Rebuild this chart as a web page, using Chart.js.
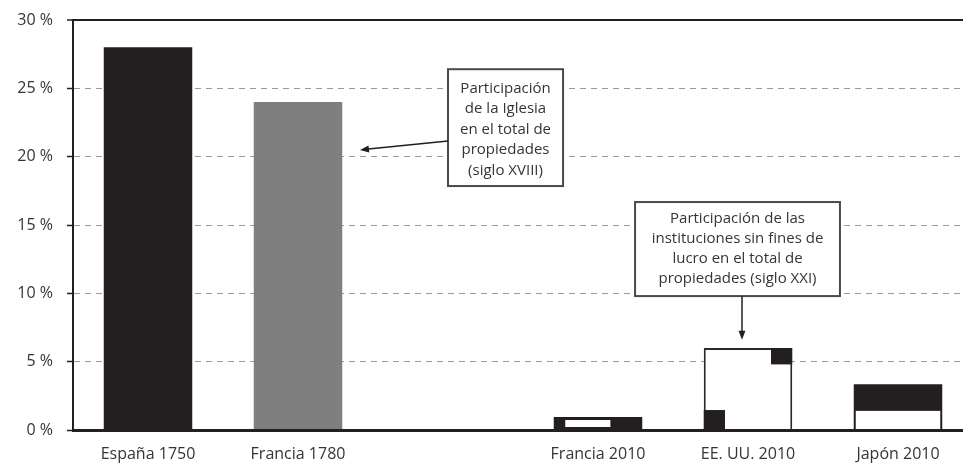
<!DOCTYPE html>
<html>
<head>
<meta charset="utf-8">
<script src="https://cdn.jsdelivr.net/npm/chart.js@4.4.1/dist/chart.umd.min.js"></script>
<style>
  html, body { margin: 0; padding: 0; background: #fff; overflow: hidden; }
  #wrap { width: 973px; height: 465px; }
</style>
</head>
<body>
<div id="wrap"><canvas id="chartCanvas"></canvas></div>
<script>
// porcentaje del total de propiedades
const categories = ["España 1750", "Francia 1780", "", "Francia 2010", "EE. UU. 2010", "Japón 2010"];
const shares = [28, 24, null, 0.95, 6, 3.35];

// trozos dentro de las barras modernas (desde / hasta, en %)
const pieceCategories = ["Francia 2010", "EE. UU. 2010", "EE. UU. 2010", "Japón 2010"];
const pieceLow = [0.22, 0, 4.8, 0];
const pieceHigh = [0.73, 1.46, 6, 1.4];

const churchNote = ["Participación", "de la Iglesia", "en el total de", "propiedades", "(siglo XVIII)"];
const nonprofitNote = ["Participación de las", "instituciones sin fines de", "lucro en el total de", "propiedades (siglo XXI)"];

const dark = "#231f20";
const textColor = "#353535";
const font = "'Open Sans', 'DejaVu Sans', sans-serif";

const piecesPlugin = {
  id: "pieces",
  afterDatasetsDraw(chart, args, opts) {
    const ctx = chart.ctx;
    const y = chart.scales.y;
    const bars = chart.getDatasetMeta(0).data;
    ctx.save();
    pieceCategories.forEach((cat, i) => {
      const bar = bars[categories.indexOf(cat)];
      const s = opts.styles[i];
      const left = bar.x - bar.width / 2 + s.inset;
      const w = bar.width - 2 * s.inset;
      const x0 = left + w * s.from;
      const x1 = left + w * s.to;
      const y0 = y.getPixelForValue(pieceHigh[i]);
      const y1 = y.getPixelForValue(pieceLow[i]);
      ctx.fillStyle = s.fill;
      ctx.fillRect(x0, y0, x1 - x0, y1 - y0);
    });
    ctx.restore();
  }
};

function drawArrow(ctx, x0, y0, x1, y1) {
  const a = Math.atan2(y1 - y0, x1 - x0);
  ctx.beginPath();
  ctx.moveTo(x0, y0);
  ctx.lineTo(x1 - 6 * Math.cos(a), y1 - 6 * Math.sin(a));
  ctx.stroke();
  ctx.beginPath();
  ctx.moveTo(x1, y1);
  ctx.lineTo(x1 - 9 * Math.cos(a) + 3.5 * Math.sin(a), y1 - 9 * Math.sin(a) - 3.5 * Math.cos(a));
  ctx.lineTo(x1 - 9 * Math.cos(a) - 3.5 * Math.sin(a), y1 - 9 * Math.sin(a) + 3.5 * Math.cos(a));
  ctx.closePath();
  ctx.fill();
}

const notesPlugin = {
  id: "notes",
  afterDraw(chart, args, opts) {
    const ctx = chart.ctx;
    const xs = chart.scales.x;
    const ys = chart.scales.y;
    ctx.save();
    opts.items.forEach(n => {
      const left = xs.getPixelForValue(n.x0);
      const right = xs.getPixelForValue(n.x1);
      const top = ys.getPixelForValue(n.yTop);
      const bottom = ys.getPixelForValue(n.yBottom);
      ctx.fillStyle = "#fff";
      ctx.fillRect(left, top, right - left, bottom - top);
      ctx.strokeStyle = "#4a4a4a";
      ctx.lineWidth = 2;
      ctx.strokeRect(left, top, right - left, bottom - top);

      ctx.fillStyle = textColor;
      ctx.font = "15px " + font;
      ctx.textAlign = "center";
      ctx.textBaseline = "middle";
      const cx = (left + right) / 2;
      const cy = (top + bottom) / 2 + n.shift;
      n.lines.forEach((line, i) => {
        ctx.fillText(line, cx, cy + (i - (n.lines.length - 1) / 2) * n.lineHeight);
      });

      ctx.strokeStyle = dark;
      ctx.fillStyle = dark;
      ctx.lineWidth = 1.5;
      drawArrow(ctx,
        xs.getPixelForValue(n.arrow[0]), ys.getPixelForValue(n.arrow[1]),
        xs.getPixelForValue(n.arrow[2]), ys.getPixelForValue(n.arrow[3]));
    });
    ctx.restore();
  }
};

const canvas = document.getElementById("chartCanvas");

const chartInstance = new Chart(canvas, {
  type: "bar",
  data: {
    labels: categories,
    datasets: [
      {
        data: shares,
        backgroundColor: [dark, "#7f7f7f", dark, dark, "#fff", dark],
        borderColor: [dark, "#7f7f7f", dark, dark, "#2a2a2a", dark],
        borderWidth: [0, 0, 0, 0, 2, 0],
        barPercentage: 0.59,
        categoryPercentage: 1
      }
    ]
  },
  options: {
    responsive: true,
    maintainAspectRatio: false,
    animation: false,
    layout: { padding: { top: 20, right: 0, left: 0, bottom: 0 } },
    plugins: {
      legend: { display: false },
      tooltip: { enabled: false },
      pieces: {
        styles: [
          { fill: "#fff", from: 0.13, to: 0.64, inset: 0 },
          { fill: dark, from: 0, to: 0.24, inset: 0 },
          { fill: dark, from: 0.76, to: 1, inset: 0 },
          { fill: "#fff", from: 0, to: 1, inset: 2 }
        ]
      },
      notes: {
        items: [
          {
            lines: churchNote, x0: 2.0, x1: 2.767, yTop: 26.4, yBottom: 17.85,
            shift: 2, lineHeight: 20.5,
            arrow: [2.0, 21.15, 1.413, 20.49]
          },
          {
            lines: nonprofitNote, x0: 3.247, x1: 4.613, yTop: 16.68, yBottom: 9.8,
            shift: 0, lineHeight: 20,
            arrow: [3.96, 9.8, 3.96, 6.6]
          }
        ]
      }
    },
    scales: {
      x: {
        grid: { display: false, drawTicks: false },
        border: { color: dark, width: 3, z: 1 },
        ticks: {
          color: textColor,
          padding: 15,
          font: { family: font, size: 16 },
          maxRotation: 0
        },
        afterFit(scale) { scale.height = 35; }
      },
      y: {
        min: 0,
        max: 30,
        ticks: {
          stepSize: 5,
          color: textColor,
          padding: 14,
          font: { family: font, size: 16 },
          callback: v => v + " %"
        },
        grid: {
          color: c => (c.tick.value === 30 || c.tick.value === 0) ? dark : "#9a9a9a",
          lineWidth: c => c.tick.value === 30 ? 2 : 1,
          tickColor: dark,
          tickLength: 6,
          tickWidth: 1.5
        },
        border: {
          color: dark,
          width: 2,
          dash: c => (c.tick && c.tick.value > 0 && c.tick.value < 30) ? [6, 5] : []
        },
        afterFit(scale) {
          scale.width = 73;
          scale.paddingTop = 0;
          scale.paddingBottom = 0;
        }
      }
    }
  },
  plugins: [piecesPlugin, notesPlugin]
});
</script>
</body>
</html>
